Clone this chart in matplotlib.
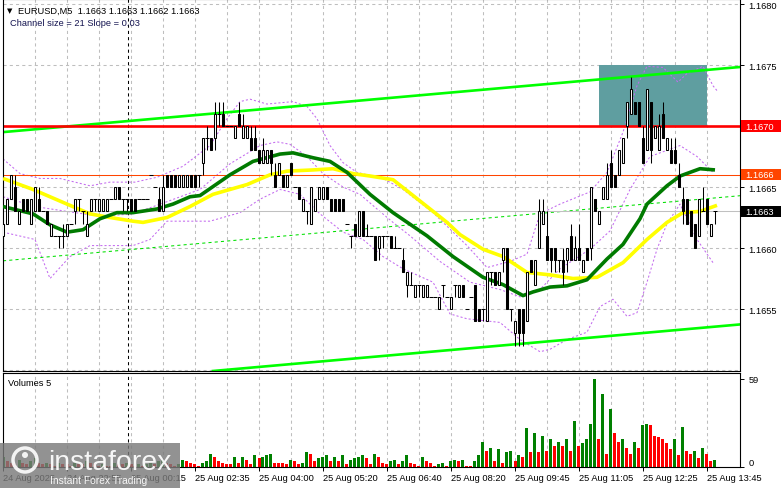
import matplotlib
matplotlib.use("Agg")
import matplotlib.pyplot as plt
import matplotlib.transforms as mtransforms
from matplotlib.patches import Rectangle, Ellipse
import numpy as np

plt.rcParams['font.family'] = ['Liberation Sans', 'DejaVu Sans']

# EURUSD M5 bars, oldest first (1 pip = 0.0001)
opens = [1.1661, 1.1662, 1.1664, 1.1665, 1.1662, 1.1664, 1.1664, 1.1662, 1.1663, 1.1664,
         1.1663, 1.1663, 1.1661, 1.1661, 1.1661, 1.1661, 1.1661, 1.1662, 1.1663, 1.1664,
         1.1663, 1.1661, 1.1663, 1.1664, 1.1663, 1.1663, 1.1663, 1.1664, 1.1664, 1.1665,
         1.1664, 1.1664, 1.1664, 1.1664, 1.1664, 1.1664, 1.1664, 1.1666, 1.1665, 1.1664,
         1.1663, 1.1666, 1.1666, 1.1666, 1.1665, 1.1665, 1.1665, 1.1666, 1.1666, 1.1666,
         1.1667, 1.1669, 1.1669, 1.1669, 1.1671, 1.1671, 1.1670, 1.1670, 1.1669, 1.1671,
         1.1669, 1.1669, 1.1669, 1.1669, 1.1668, 1.1667, 1.1667, 1.1668, 1.1666, 1.1666,
         1.1666, 1.1665, 1.1667, 1.1665, 1.1665, 1.1663, 1.1663, 1.1662, 1.1663, 1.1664,
         1.1664, 1.1665, 1.1664, 1.1664, 1.1664, 1.1664, 1.1662, 1.1661, 1.1662, 1.1661,
         1.1663, 1.1661, 1.1661, 1.1661, 1.1660, 1.1661, 1.1661, 1.1661, 1.1660, 1.1660,
         1.1659, 1.1657, 1.1657, 1.1656, 1.1657, 1.1656, 1.1656, 1.1656, 1.1656, 1.1655,
         1.1657, 1.1656, 1.1655, 1.1657, 1.1656, 1.1657, 1.1655, 1.1656, 1.1657, 1.1655,
         1.1655, 1.1654, 1.1658, 1.1658, 1.1657, 1.1659, 1.1660, 1.1655, 1.1653, 1.1655,
         1.1655, 1.1654, 1.1659, 1.1657, 1.1660, 1.1662, 1.1661, 1.1660, 1.1660, 1.1659,
         1.1659, 1.1659, 1.1661, 1.1659, 1.1660, 1.1658, 1.1660, 1.1660, 1.1664, 1.1662,
         1.1664, 1.1664, 1.1667, 1.1666, 1.1666, 1.1667, 1.1670, 1.1671, 1.1672, 1.1672,
         1.1669, 1.1668, 1.1672, 1.1669, 1.1668, 1.1671, 1.1668, 1.1668, 1.1668, 1.1666,
         1.1664, 1.1664, 1.1663, 1.1662, 1.1661, 1.1663, 1.1664, 1.1661, 1.1663]
highs = [1.1662, 1.1664, 1.1666, 1.1666, 1.1663, 1.1664, 1.1664, 1.1664, 1.1665, 1.1665,
         1.1663, 1.1663, 1.1662, 1.1661, 1.1661, 1.1662, 1.1662, 1.1662, 1.1664, 1.1664,
         1.1663, 1.1663, 1.1664, 1.1664, 1.1664, 1.1664, 1.1664, 1.1664, 1.1665, 1.1665,
         1.1664, 1.1664, 1.1664, 1.1664, 1.1664, 1.1664, 1.1664, 1.1666, 1.1665, 1.1665,
         1.1666, 1.1666, 1.1666, 1.1666, 1.1666, 1.1666, 1.1666, 1.1666, 1.1666, 1.1666,
         1.1669, 1.1670, 1.1669, 1.1672, 1.1672, 1.1672, 1.1670, 1.1670, 1.1670, 1.1672,
         1.1671, 1.1670, 1.1670, 1.1670, 1.1668, 1.1669, 1.1668, 1.1668, 1.1667, 1.1667,
         1.1666, 1.1666, 1.1667, 1.1665, 1.1665, 1.1664, 1.1663, 1.1665, 1.1664, 1.1665,
         1.1665, 1.1665, 1.1664, 1.1664, 1.1664, 1.1664, 1.1662, 1.1661, 1.1662, 1.1663,
         1.1663, 1.1662, 1.1661, 1.1661, 1.1661, 1.1661, 1.1661, 1.1661, 1.1661, 1.1660,
         1.1660, 1.1658, 1.1658, 1.1657, 1.1657, 1.1657, 1.1657, 1.1656, 1.1656, 1.1656,
         1.1657, 1.1656, 1.1656, 1.1657, 1.1657, 1.1657, 1.1655, 1.1656, 1.1657, 1.1655,
         1.1655, 1.1658, 1.1658, 1.1658, 1.1658, 1.1660, 1.1660, 1.1655, 1.1654, 1.1655,
         1.1655, 1.1658, 1.1659, 1.1659, 1.1664, 1.1664, 1.1663, 1.1660, 1.1660, 1.1659,
         1.1660, 1.1660, 1.1662, 1.1661, 1.1662, 1.1659, 1.1660, 1.1665, 1.1664, 1.1663,
         1.1665, 1.1667, 1.1668, 1.1666, 1.1668, 1.1669, 1.1672, 1.1674, 1.1672, 1.1672,
         1.1670, 1.1673, 1.1672, 1.1670, 1.1671, 1.1672, 1.1669, 1.1669, 1.1669, 1.1667,
         1.1665, 1.1664, 1.1663, 1.1662, 1.1664, 1.1665, 1.1664, 1.1662, 1.1663]
lows = [1.1660, 1.1662, 1.1664, 1.1663, 1.1662, 1.1663, 1.1663, 1.1662, 1.1663, 1.1663,
        1.1663, 1.1662, 1.1661, 1.1661, 1.1660, 1.1660, 1.1661, 1.1662, 1.1662, 1.1663,
        1.1662, 1.1661, 1.1663, 1.1663, 1.1663, 1.1663, 1.1663, 1.1664, 1.1664, 1.1664,
        1.1663, 1.1663, 1.1663, 1.1663, 1.1664, 1.1664, 1.1664, 1.1666, 1.1665, 1.1663,
        1.1663, 1.1665, 1.1665, 1.1665, 1.1665, 1.1665, 1.1665, 1.1665, 1.1665, 1.1665,
        1.1666, 1.1668, 1.1668, 1.1668, 1.1670, 1.1670, 1.1670, 1.1670, 1.1669, 1.1670,
        1.1669, 1.1669, 1.1668, 1.1668, 1.1667, 1.1667, 1.1667, 1.1666, 1.1665, 1.1666,
        1.1665, 1.1665, 1.1666, 1.1665, 1.1664, 1.1663, 1.1662, 1.1662, 1.1663, 1.1664,
        1.1664, 1.1664, 1.1663, 1.1663, 1.1663, 1.1663, 1.1662, 1.1660, 1.1661, 1.1661,
        1.1661, 1.1661, 1.1661, 1.1659, 1.1659, 1.1660, 1.1661, 1.1660, 1.1660, 1.1660,
        1.1658, 1.1656, 1.1657, 1.1656, 1.1656, 1.1656, 1.1656, 1.1656, 1.1656, 1.1655,
        1.1656, 1.1656, 1.1655, 1.1656, 1.1656, 1.1656, 1.1655, 1.1656, 1.1654, 1.1654,
        1.1654, 1.1654, 1.1657, 1.1657, 1.1657, 1.1658, 1.1655, 1.1654, 1.1652, 1.1652,
        1.1652, 1.1654, 1.1658, 1.1657, 1.1660, 1.1662, 1.1659, 1.1658, 1.1658, 1.1658,
        1.1657, 1.1658, 1.1659, 1.1659, 1.1659, 1.1658, 1.1659, 1.1659, 1.1663, 1.1662,
        1.1664, 1.1664, 1.1665, 1.1665, 1.1666, 1.1667, 1.1669, 1.1671, 1.1671, 1.1670,
        1.1667, 1.1668, 1.1667, 1.1669, 1.1668, 1.1669, 1.1668, 1.1667, 1.1667, 1.1665,
        1.1662, 1.1662, 1.1661, 1.1660, 1.1661, 1.1663, 1.1662, 1.1661, 1.1662]
closes = [1.1662, 1.1664, 1.1666, 1.1663, 1.1663, 1.1663, 1.1663, 1.1664, 1.1665, 1.1663,
          1.1663, 1.1662, 1.1662, 1.1661, 1.1661, 1.1661, 1.1662, 1.1662, 1.1664, 1.1664,
          1.1663, 1.1662, 1.1664, 1.1664, 1.1664, 1.1664, 1.1664, 1.1664, 1.1665, 1.1664,
          1.1664, 1.1664, 1.1663, 1.1663, 1.1664, 1.1664, 1.1664, 1.1666, 1.1665, 1.1663,
          1.1665, 1.1665, 1.1665, 1.1665, 1.1666, 1.1666, 1.1666, 1.1665, 1.1665, 1.1666,
          1.1669, 1.1669, 1.1668, 1.1671, 1.1671, 1.1670, 1.1670, 1.1670, 1.1670, 1.1670,
          1.1670, 1.1670, 1.1668, 1.1668, 1.1667, 1.1668, 1.1668, 1.1667, 1.1665, 1.1667,
          1.1665, 1.1666, 1.1666, 1.1665, 1.1664, 1.1664, 1.1663, 1.1665, 1.1664, 1.1665,
          1.1665, 1.1664, 1.1663, 1.1663, 1.1663, 1.1663, 1.1662, 1.1661, 1.1661, 1.1663,
          1.1661, 1.1661, 1.1661, 1.1659, 1.1661, 1.1661, 1.1661, 1.1660, 1.1660, 1.1660,
          1.1658, 1.1658, 1.1657, 1.1657, 1.1657, 1.1657, 1.1657, 1.1656, 1.1656, 1.1656,
          1.1657, 1.1656, 1.1656, 1.1657, 1.1657, 1.1656, 1.1655, 1.1656, 1.1654, 1.1654,
          1.1655, 1.1658, 1.1658, 1.1657, 1.1658, 1.1660, 1.1655, 1.1655, 1.1654, 1.1653,
          1.1653, 1.1658, 1.1658, 1.1659, 1.1663, 1.1663, 1.1659, 1.1659, 1.1659, 1.1659,
          1.1658, 1.1660, 1.1659, 1.1660, 1.1659, 1.1659, 1.1659, 1.1665, 1.1663, 1.1663,
          1.1665, 1.1666, 1.1665, 1.1665, 1.1668, 1.1669, 1.1672, 1.1673, 1.1671, 1.1670,
          1.1667, 1.1673, 1.1668, 1.1670, 1.1670, 1.1669, 1.1669, 1.1667, 1.1667, 1.1665,
          1.1663, 1.1662, 1.1661, 1.1660, 1.1664, 1.1663, 1.1662, 1.1662, 1.1663]
volumes = [7, 4, 3, 2, 5, 3, 2, 4, 6, 3,
           2, 3, 2, 1, 3, 2, 2, 1, 3, 2,
           2, 4, 3, 2, 1, 2, 1, 1, 3, 2,
           2, 3, 2, 1, 2, 1, 2, 3, 2, 4,
           5, 3, 2, 1, 2, 5, 4, 3, 2, 1,
           3, 4, 9, 7, 4, 3, 2, 2, 7, 3,
           7, 5, 2, 8, 6, 7, 8, 9, 3, 3,
           3, 2, 5, 4, 2, 3, 10, 9, 4, 6,
           7, 8, 4, 7, 4, 8, 2, 5, 6, 7,
           8, 6, 2, 9, 7, 3, 2, 4, 5, 2,
           4, 8, 3, 2, 1, 7, 4, 3, 1, 2,
           3, 1, 4, 5, 4, 5, 1, 1, 4, 8,
           17, 11, 13, 4, 12, 3, 10, 11, 4, 8,
           7, 26, 10, 23, 10, 21, 11, 19, 14, 17,
           14, 19, 11, 31, 14, 16, 19, 29, 59, 19,
           49, 9, 39, 23, 17, 19, 13, 9, 17, 13,
           28, 29, 28, 21, 20, 19, 16, 12, 19, 8,
           27, 11, 9, 11, 6, 13, 9, 4, 5]

# moving averages, sampled along the drawn lines (bar index, price)
ma_fast_x = [0, 7.5, 11.75, 16, 20, 24.25, 28.5, 32.5, 38.5, 42.5,
             46.75, 49.25, 56.75, 62.5, 69.25, 72.5, 77.5, 81.75, 86, 91.75,
             97.5, 106, 112.5, 120, 125, 130, 132.5, 136.75, 141, 146,
             151, 155, 159.25, 161, 166, 169.25, 174.25, 178]
ma_fast = [1.16634, 1.16628, 1.16619, 1.16613, 1.16615, 1.16624, 1.16629, 1.16629, 1.16632, 1.16636,
           1.16642, 1.16643, 1.16660, 1.16671, 1.16677, 1.16678, 1.16674, 1.16671, 1.16662, 1.16644,
           1.16629, 1.16610, 1.16593, 1.16576, 1.16570, 1.16561, 1.16564, 1.16568, 1.16569, 1.16574,
           1.16591, 1.16603, 1.16624, 1.16636, 1.16651, 1.16659, 1.16665, 1.16664]
ma_slow_x = [0, 7.5, 16, 21.75, 26.75, 32.5, 35, 41, 46.75, 52.5,
             61, 66.75, 71, 77.5, 82.5, 87.5, 91.75, 97.5, 106, 111,
             114.25, 120, 125, 131, 136.75, 142.5, 148.5, 155, 161, 166,
             170, 174.25, 178.5]
ma_slow = [1.16657, 1.16648, 1.16636, 1.16628, 1.16625, 1.16622, 1.16621, 1.16625, 1.16634, 1.16644,
           1.16652, 1.16660, 1.16663, 1.16664, 1.16665, 1.16661, 1.16659, 1.16656, 1.16634, 1.16621,
           1.16611, 1.16599, 1.16593, 1.16580, 1.16578, 1.16575, 1.16576, 1.16588, 1.16607, 1.16621,
           1.16629, 1.16630, 1.16635]

# bollinger bands
bb_upper_x = [0, 4.25, 9.25, 14.25, 21.75, 26.75, 33, 38.5, 45, 51.75,
              56, 59.25, 61.75, 66, 72.5, 76, 78.5, 81.75, 85, 88.5,
              95, 100, 107.5, 116, 121, 126.75, 131, 134.25, 139.25, 146.75,
              151, 155, 158.5, 161, 165, 168.75, 171, 175, 177.5, 178.5]
bb_upper = [1.16673, 1.16661, 1.16657, 1.16657, 1.16651, 1.16654, 1.16654, 1.16658, 1.16667, 1.16684,
            1.16706, 1.16720, 1.16722, 1.16718, 1.16720, 1.16716, 1.16706, 1.16684, 1.16670, 1.16662,
            1.16657, 1.16648, 1.16629, 1.16602, 1.16584, 1.16589, 1.16595, 1.16628, 1.16636, 1.16646,
            1.16662, 1.16695, 1.16733, 1.16749, 1.16748, 1.16736, 1.16743, 1.16749, 1.16733, 1.16729]
bb_mid_x = [0, 8, 16, 24.25, 32.5, 41, 49.25, 56.75, 64.25, 68.5,
            71.75, 76, 80, 85, 89.25, 93.5, 97.5, 101.75, 109.25, 116.75,
            124.25, 129.25, 134.25, 139.25, 146.75, 151.75, 156.75, 161.75, 169.25, 173.5,
            177.5]
bb_mid = [1.16642, 1.16634, 1.16630, 1.16626, 1.16628, 1.16638, 1.16648, 1.16669, 1.16684, 1.16687,
          1.16685, 1.16675, 1.16661, 1.16650, 1.16644, 1.16632, 1.16621, 1.16610, 1.16589, 1.16572,
          1.16566, 1.16560, 1.16566, 1.16583, 1.16599, 1.16614, 1.16648, 1.16675, 1.16684, 1.16675,
          1.16662]
bb_lower_x = [0, 8, 11.75, 16.75, 21.75, 32.5, 36.75, 41, 51.75, 59.25,
              64.25, 69.25, 74.25, 79.25, 85, 90, 95, 100, 107.5, 111.75,
              116, 124.25, 129.25, 134.25, 136.75, 141, 146, 149.25, 152.5, 156,
              158.5, 161, 163.5, 166, 169.25, 173.5, 177.5]
bb_lower = [1.16613, 1.16607, 1.16575, 1.16593, 1.16602, 1.16602, 1.16607, 1.16622, 1.16622, 1.16629,
            1.16640, 1.16648, 1.16644, 1.16628, 1.16613, 1.16607, 1.16593, 1.16583, 1.16572, 1.16546,
            1.16542, 1.16539, 1.16525, 1.16515, 1.16517, 1.16525, 1.16531, 1.16552, 1.16558, 1.16544,
            1.16547, 1.16572, 1.16599, 1.16620, 1.16636, 1.16607, 1.16588]

# regression channel (top line anchors) and width
channel_bars = [0, 183]
channel_top = [1.16695, 1.16748]
channel_width = 0.00211

resistance = 1.1670
level_orange = 1.1666
bid = 1.1663
zone_bars = [149, 176]
zone_prices = [1.1670, 1.1675]
day_separator = 31.25

price_ticks = [1.1655, 1.1660, 1.1665, 1.1675, 1.1680]
time_tick_bars = [0, 16, 32, 48, 64, 80, 96, 112, 128, 144, 160, 176]
time_labels = ['24 Aug 2025', '24 Aug 22:55', '25 Aug 00:15', '25 Aug 02:35',
               '25 Aug 04:00', '25 Aug 05:20', '25 Aug 06:40', '25 Aug 08:20',
               '25 Aug 09:45', '25 Aug 11:05', '25 Aug 12:25', '25 Aug 13:45']

W, H = 781, 489
FS = 6.7
GRID = '#BEBEBE'


def box(l, t, r, b):
    return [l / W, 1 - b / H, (r - l) / W, (b - t) / H]


fig = plt.figure(figsize=(W / 100, H / 100), dpi=100)
ax = fig.add_axes(box(3, 0, 740, 372))
axv = fig.add_axes(box(3, 374, 740, 468))

n = len(closes)
xs = np.arange(n)
xlim = (0, 184.25)

for a in (ax, axv):
    a.set_xlim(*xlim)
    for s in a.spines.values():
        s.set_color('black')
        s.set_linewidth(0.8)
    for g in np.arange(8.1, 180, 8):
        a.axvline(g, color=GRID, lw=0.75, ls=(0, (3, 3)), zorder=0.5)
    a.axvline(day_separator, color='black', lw=0.75, ls=(0, (3, 3)), zorder=0.6)

ax.set_ylim(1.164992, 1.168041)
for p in [1.1650, 1.1655, 1.1660, 1.1665, 1.1675, 1.1680]:
    ax.axhline(p, color=GRID, lw=0.75, ls=(0, (3, 3)), zorder=0.5)

# resistance zone
ax.add_patch(Rectangle((zone_bars[0], zone_prices[0]), zone_bars[1] - zone_bars[0],
                       zone_prices[1] - zone_prices[0], facecolor='#5F9EA0',
                       edgecolor='none', zorder=1))

# channel
top_line = ax.axline((channel_bars[0], channel_top[0]), (channel_bars[1], channel_top[1]),
                     color='#00FF00', lw=1.9, zorder=2.2)
ax.axline((channel_bars[0], channel_top[0] - channel_width / 2),
          (channel_bars[1], channel_top[1] - channel_width / 2),
          color='#00E000', lw=0.75, ls=(0, (3, 3)), zorder=2.1)
ax.axline((channel_bars[0], channel_top[0] - channel_width),
          (channel_bars[1], channel_top[1] - channel_width),
          color='#00FF00', lw=1.9, zorder=2.2)

# bollinger
for bx, by in [(bb_upper_x, bb_upper), (bb_mid_x, bb_mid), (bb_lower_x, bb_lower)]:
    ax.plot(bx, by, color='#C36BEF', lw=0.75, ls=(0, (2, 2)), zorder=2)

# horizontal levels
ax.axhline(resistance, color='#FF0000', lw=1.9, zorder=2.5)
ax.axhline(level_orange, color='#FF4500', lw=0.75, zorder=2.5)
ax.axhline(bid, color='#C0C0C0', lw=0.75, zorder=2.4)

# moving averages
ax.plot(ma_slow_x, ma_slow, color='#FFFF00', lw=2.6, zorder=3, solid_capstyle='butt')
ax.plot(ma_fast_x, ma_fast, color='#007A00', lw=2.6, zorder=3.1, solid_capstyle='butt')

# candles
bw = 0.55
for i in xs:
    o, h, l, c = opens[i], highs[i], lows[i], closes[i]
    ax.vlines(i, l, h, color='black', lw=0.75, zorder=4)
    if c > o:
        ax.add_patch(Rectangle((i - bw / 2, o), bw, c - o, facecolor='white',
                               edgecolor='black', lw=0.75, zorder=4.5))
    elif c < o:
        ax.add_patch(Rectangle((i - bw / 2, c), bw, o - c, facecolor='black',
                               edgecolor='black', lw=0.75, zorder=4.5))
    else:
        ax.hlines(o, i - 0.45, i + 0.45, color='black', lw=0.75, zorder=4.5)

ax.set_xticks([])
ax.yaxis.tick_right()
ax.set_yticks(price_ticks)
ax.set_yticklabels([f'{p:.4f}' for p in price_ticks])
ax.tick_params(axis='y', labelsize=FS, length=3, width=0.7, pad=3, colors='black')

# coloured price tags on the right
trans = mtransforms.blended_transform_factory(ax.transAxes, ax.transData)
for price, bg in [(resistance, '#FF0000'), (level_orange, '#FF4500'), (bid, '#000000')]:
    ax.add_patch(Rectangle((1.0015, price - 0.000046), 0.056, 0.000092, transform=trans,
                           facecolor=bg, edgecolor='none', clip_on=False, zorder=6))
    ax.text(1.0075, price, f'{price:.4f}', transform=trans, color='white', fontsize=FS,
            va='center', ha='left', clip_on=False, zorder=7)

# volumes
vcolors = ['#008000'] + ['#008000' if volumes[i] > volumes[i - 1] else '#FF0000'
                         for i in range(1, n)]
axv.bar(xs, volumes, width=0.75, color=vcolors, zorder=2)
axv.set_ylim(0, 63)
axv.yaxis.tick_right()
axv.set_yticks([0, 59])
axv.set_yticklabels(['0', '59'])
axv.get_yticklabels()[0].set_va('bottom')
axv.tick_params(axis='y', labelsize=FS, length=3, width=0.7, pad=3)
axv.set_xticks(time_tick_bars)
axv.set_xticklabels(time_labels, ha='left')
axv.tick_params(axis='x', labelsize=FS, length=3, width=0.7, pad=1.5)

# header texts
fig.text(7 / W, 1 - 11 / H, '\u25bc', fontsize=5, va='center', ha='left',
         family=['DejaVu Sans'])
fig.text(18 / W, 1 - 11 / H, 'EURUSD,M5  1.1663 1.1663 1.1662 1.1663', fontsize=FS,
         va='center', ha='left')
fig.text(10 / W, 1 - 24 / H, 'Channel size = 21 Slope = 0.03', fontsize=FS,
         va='center', ha='left', color='#141450')
fig.text(8 / W, 1 - 384 / H, 'Volumes 5', fontsize=FS, va='center', ha='left')

# watermark
fig.add_artist(Rectangle((0, 0), 180 / W, 45 / H, transform=fig.transFigure,
                         facecolor='#7A7A7A', edgecolor='none', alpha=0.82, zorder=10))
fig.add_artist(Ellipse((25 / W, 1 - 461 / H), 24 / W, 24 / H, transform=fig.transFigure,
                       facecolor='none', edgecolor='white', lw=2.5, alpha=0.9, zorder=11))
fig.add_artist(Ellipse((25 / W, 1 - 456 / H), 6 / W, 6 / H, transform=fig.transFigure,
                       facecolor='white', edgecolor='none', alpha=0.9, zorder=11))
fig.text(48 / W, 1 - 470 / H, 'instaforex', fontsize=20.5, color='white', alpha=0.92,
         va='baseline', ha='left', zorder=11)
fig.text(50 / W, 1 - 481 / H, 'Instant Forex Trading', fontsize=7.4, color='white',
         alpha=0.92, va='center', ha='left', zorder=11)

fig.savefig('out.png', dpi=100)
